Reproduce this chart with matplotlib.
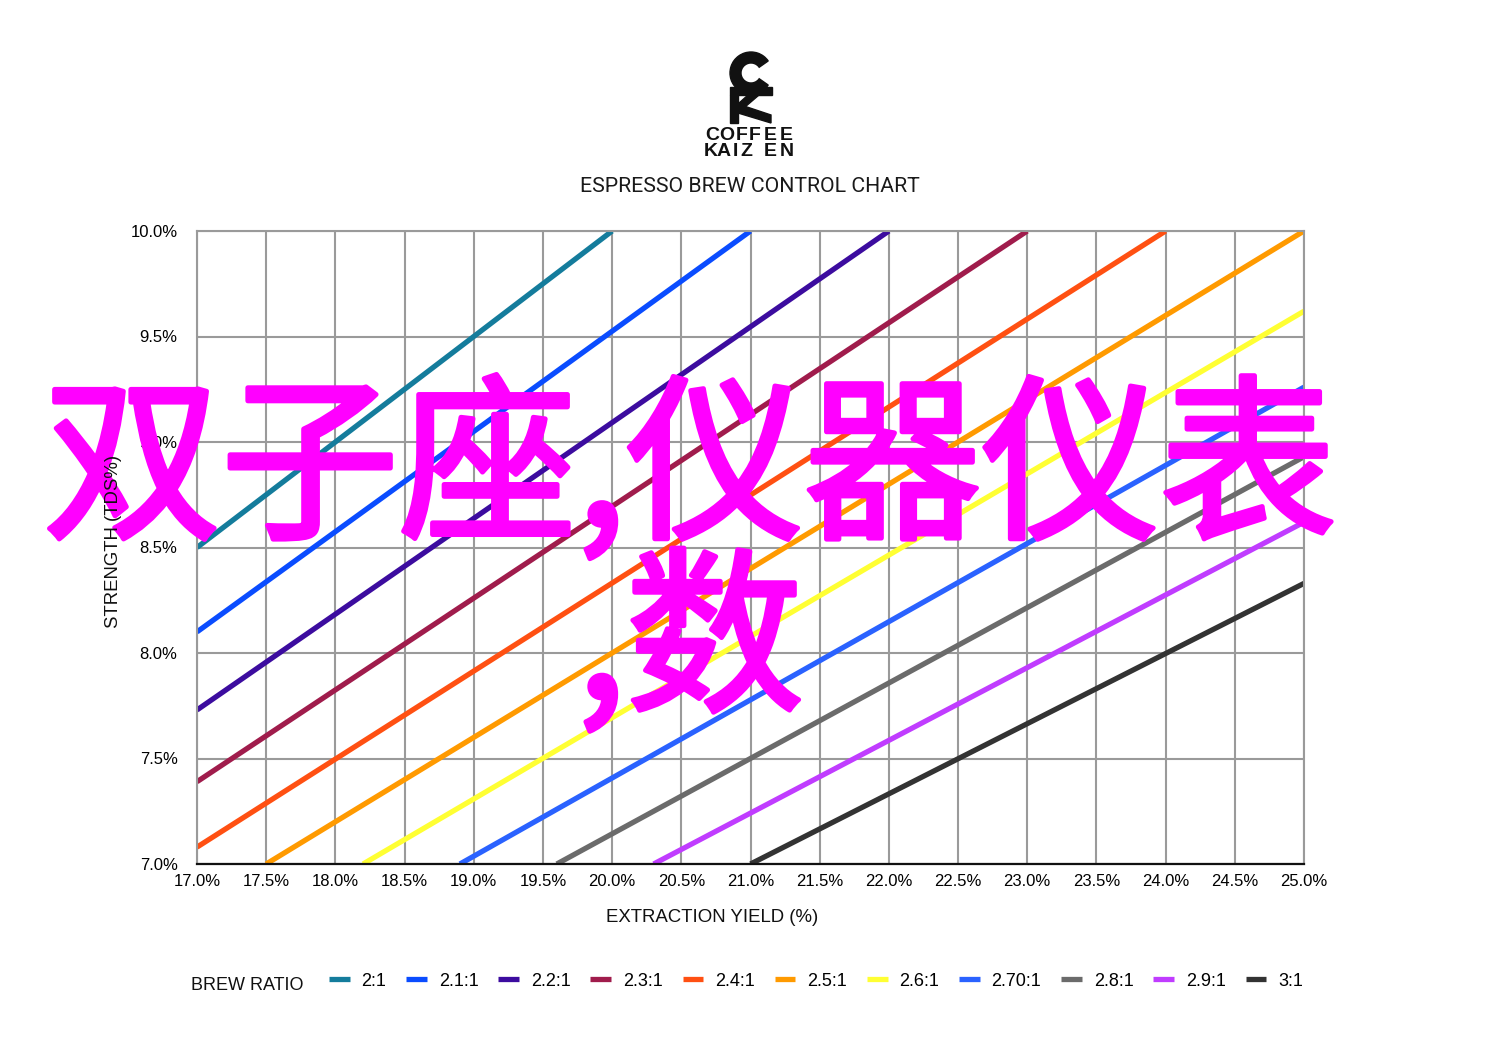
import matplotlib.pyplot as plt
import matplotlib.patheffects as pe
from matplotlib.patches import Wedge, Rectangle, Polygon

# brew ratio lines, visible endpoints (extraction %, strength %)
ratios = ['2:1', '2.1:1', '2.2:1', '2.3:1', '2.4:1', '2.5:1', '2.6:1', '2.70:1', '2.8:1', '2.9:1', '3:1']
x_start = [17.0, 17.0, 17.0, 17.0, 17.0, 17.5, 18.2, 18.9, 19.6, 20.3, 21.0]
y_start = [8.5, 8.1, 7.73, 7.39, 7.08, 7.0, 7.0, 7.0, 7.0, 7.0, 7.0]
x_end = [20.0, 21.0, 22.0, 23.0, 24.0, 25.0, 25.0, 25.0, 25.0, 25.0, 25.0]
y_end = [10.0, 10.0, 10.0, 10.0, 10.0, 10.0, 9.62, 9.26, 8.93, 8.62, 8.33]
colors = ['#147c9c', '#0a4cff', '#3c0c9f', '#a01c4c', '#ff5012', '#ff9a00',
          '#ffff33', '#2a62ff', '#6b6b6b', '#c03cff', '#333333']

x_ticks = [17.0 + 0.5 * i for i in range(17)]
y_ticks = [7.0, 7.5, 8.0, 8.5, 9.0, 9.5, 10.0]

W, H = 1500, 1060
fig = plt.figure(figsize=(15, 10.6), dpi=100)
font = 'Liberation Sans'

ax = fig.add_axes([197 / W, 1 - 864 / H, (1304 - 197) / W, (864 - 231) / H])
for i in range(len(ratios)):
    ax.plot([x_start[i], x_end[i]], [y_start[i], y_end[i]], color=colors[i],
            lw=3.8, solid_capstyle='butt', label=ratios[i])

ax.set_xlim(17, 25)
ax.set_ylim(7, 10)
ax.set_xticks(x_ticks)
ax.set_yticks(y_ticks)
ax.set_xticklabels(['%.1f%%' % v for v in x_ticks], fontsize=12, family=font)
ax.set_yticklabels(['%.1f%%' % v for v in y_ticks], fontsize=12, family=font)
ax.tick_params(axis='x', length=0, pad=7)
ax.tick_params(axis='y', length=0, pad=14)
ax.grid(True, color='#9a9a9a', lw=1.5)
ax.set_axisbelow(True)
for s in ['left', 'right', 'top']:
    ax.spines[s].set_color('#9a9a9a')
    ax.spines[s].set_linewidth(1.5)
ax.spines['bottom'].set_color('#111111')
ax.spines['bottom'].set_linewidth(1.6)

# axis labels
fig.text(712 / W, 1 - 918 / H, 'EXTRACTION YIELD (%)', ha='center', va='center',
         fontsize=13.4, family=font, color='#111111')
fig.text(113 / W, 1 - 541 / H, 'STRENGTH (TDS%)', ha='center', va='center',
         rotation=90, fontsize=13.4, family=font, color='#111111')

# legend
fig.text(191 / W, 1 - 985 / H, 'BREW RATIO', ha='left', va='center',
         fontsize=13, family=font, color='#111111')
handles, labels = ax.get_legend_handles_labels()
fig.legend(handles, labels, loc='center left', bbox_to_anchor=(320 / W, 1 - 981 / H),
           ncol=11, frameon=False, borderpad=0, handlelength=1.15, handletextpad=0.65,
           columnspacing=1.1, prop={'family': font, 'size': 13})

# overlay in pixel coords for logo, title, watermark
ov = fig.add_axes([0, 0, 1, 1])
ov.set_xlim(0, W)
ov.set_ylim(H, 0)
ov.axis('off')

k = '#111111'
ov.add_patch(Wedge((751, 73), 21, 35, 325, width=11, color=k))
ov.add_patch(Rectangle((730, 87), 42, 8, color=k))
ov.add_patch(Rectangle((730, 95), 8, 28, color=k))
ov.add_patch(Polygon([(748, 95), (759, 95), (738, 113), (738, 104)], color=k))
ov.add_patch(Polygon([(738, 104), (771, 115), (771, 123), (738, 113)], color=k))

coffee_x = [712, 727, 742, 755, 770, 786]
kaizen_x = [711, 724, 735, 746, 770, 787]
for ch, x in zip('COFFEE', coffee_x):
    ov.text(x, 136, ch, ha='center', va='center', fontsize=14, fontweight='bold',
            family=font, color=k)
for ch, x in zip('KAIZEN', kaizen_x):
    ov.text(x, 151, ch, ha='center', va='center', fontsize=14, fontweight='bold',
            family=font, color=k)

ov.text(750, 186, 'ESPRESSO BREW CONTROL CHART', ha='center', va='center',
        fontsize=15.3, family='Roboto', fontweight='normal', color='#1a1a1a')

# watermark
mag = '#ff00ff'
thick = [pe.withStroke(linewidth=3.5, foreground=mag)]
ov.text(690, 474, '双子座,仪器仪表', ha='center', va='center', fontsize=128,
        family=['Noto Sans CJK SC', 'DejaVu Sans'], color=mag, path_effects=thick)
ov.text(690, 647, ',数', ha='center', va='center', fontsize=128,
        family=['Noto Sans CJK SC', 'DejaVu Sans'], color=mag, path_effects=thick)

fig.savefig('out.png', dpi=100)
